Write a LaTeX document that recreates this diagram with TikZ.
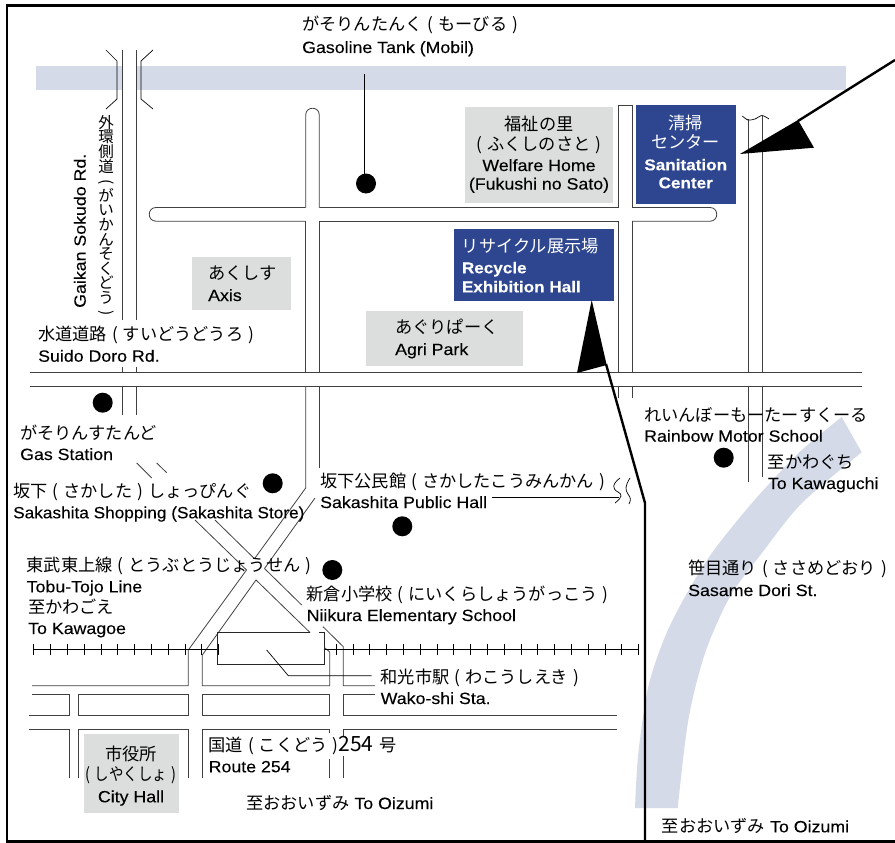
\documentclass[tikz,border=0pt]{standalone}
\usepackage{graphicx}
\usepackage{fontspec}
\setmainfont{Liberation Sans}[FakeStretch=1.09,FakeBold=0.15]
\newfontfamily\jpf{Noto Sans CJK JP}[WordSpace=1.3]
\definecolor{bandc}{HTML}{D4DAE8}
\definecolor{greyc}{HTML}{DCDDDD}
\definecolor{bluec}{HTML}{2E4690}
\tikzset{
  x=1pt,y=-1pt,
  road/.style={draw=black!75,line width=0.8pt},
  thin line/.style={draw=black,line width=0.7pt},
  heavy/.style={draw=black,line width=2.4pt,line join=miter},
  pin/.style={fill=black,draw=none},
  jp/.style={font=\jpf\fontsize{17.2}{20}\selectfont,anchor=base west,inner sep=0pt},
  en/.style={font=\fontsize{16.3}{19}\selectfont,anchor=base west,inner sep=0pt},
  jpc/.style={jp,anchor=base},
  enc/.style={en,anchor=base},
  enb/.style={font=\bfseries\fontsize{15.7}{19}\selectfont,anchor=base west,inner sep=0pt},
}
\begin{document}
\begin{tikzpicture}
\useasboundingbox (0,0) rectangle (895,843);
% blue roads
\fill[bandc] (36,66) rectangle (122,90);
\fill[bandc] (136,66) rectangle (846,90);
\fill[bandc] plot[smooth] coordinates {(635,808) (638.3,753.3) (648.3,686.7) (665,636.7) (685,596.7) (711.7,553.3) (751.7,503.3) (798.3,453.3) (841.7,417)}
  -- plot[smooth] coordinates {(861.7,452.3) (801.7,503.3) (761.7,553.3) (730,596.7) (705,653.3) (688.3,720) (677.7,808)} -- cycle;
% grey and blue boxes
\fill[greyc] (192,257) rectangle (291,310);
\fill[greyc] (366,311) rectangle (523,366);
\fill[greyc] (465,107) rectangle (613,203);
\fill[greyc] (84,734) rectangle (179,812.7);
\fill[bluec] (636,105) rectangle (736,204);
\fill[bluec] (454,229) rectangle (614,301);
% frame
\draw[heavy] (895,5.5) -- (7,5.5) -- (7,841.5) -- (895,841.5);
% ring road
\draw[road] (122,50) -- (122,320) (122,367) -- (122,372) (122,386) -- (122,415);
\draw[road] (136,50) -- (136,320) (136,367) -- (136,372) (136,386) -- (136,415);
\draw[thin line] (106,50) -- (117,61) -- (117,99) -- (106,109);
\draw[thin line] (153,50) -- (141,61) -- (141,99) -- (153,109);
% upper road
\draw[road] (305.7,207.5) -- (156,207.5) .. controls (147,207.5) and (147,221.2) .. (156,221.2) -- (305.7,221.2);
\draw[road] (319.3,207.5) -- (618.7,207.5) (632,207.5) -- (710,207.5) .. controls (719,207.5) and (719,221.2) .. (710,221.2) -- (632,221.2);
\draw[road] (319.3,221.2) -- (618.7,221.2);
% vertical road 1
\draw[road] (305.7,207.5) -- (305.7,115) .. controls (305.7,106) and (319.3,106) .. (319.3,115) -- (319.3,207.5);
\draw[road] (305.7,221.2) -- (305.7,372) (319.3,221.2) -- (319.3,372);
\draw[road] (305.7,386) -- (305.7,488) -- (254.5,558.7);
\draw[road] (319.3,386) -- (319.3,468);
% vertical road 2
\draw[road] (618.7,207.5) -- (618.7,105) -- (632,105) -- (632,207.5);
\draw[road] (618.7,221.2) -- (618.7,372) (632,221.2) -- (632,372);
\draw[road] (618.7,386) -- (618.7,398) (632,386) -- (632,398);
% vertical road 3
\draw[road] (748.3,119) -- (748.3,372) (762.3,116) -- (762.3,372);
\draw[road] (748.3,386) -- (748.3,482) (762.3,386) -- (762.3,477);
\draw[thin line] plot[smooth] coordinates {(742.3,116) (748,120) (755,119) (762,115.5) (769,119)};
% Suido road
\draw[road] (30,372) -- (862,372) (30,386) -- (862,386);
% crossing
\draw[road] (136.7,463) -- (151.7,478) (156.7,463) -- (166.7,472.7);
\draw[road] (195,520) -- (246.5,570) -- (188.3,650) -- (188.3,685.7) -- (32,685.7);
\draw[road] (215,520) -- (254.5,558.7);
\draw[road] (264.5,568.5) -- (301.7,605);
\draw[road] (315,498) -- (264.5,568.5);
\draw[road] (310,632.5) -- (256,580) -- (202.3,655) -- (202.3,685.7) -- (329.7,685.7) -- (329.7,652) -- (325,648);
\draw[road] (323,626.7) -- (343.3,646.7) -- (343.3,685.7) -- (375,685.7);
% lower roads
\draw[road] (32,694.3) -- (69.7,694.3) -- (69.7,715) -- (29,715);
\draw[road] (78,694.3) rectangle (188.3,715);
\draw[road] (202.3,694.3) rectangle (329.7,715);
\draw[road] (375,694.3) -- (343.3,694.3) -- (343.3,715) -- (617,715);
\draw[road] (29,729) -- (69.7,729) -- (69.7,778);
\draw[road] (78,778) -- (78,729) -- (188.3,729) -- (188.3,778);
\draw[road] (202.3,778) -- (202.3,729) -- (329.7,729) -- (329.7,733);
\draw[road] (329.7,759) -- (329.7,778);
\draw[road] (617,729) -- (343.3,729) -- (343.3,737) (343.3,756) -- (343.3,778);
% rail
\draw[thin line] (33.7,649.3) -- (217.7,649.3) (324.3,649.3) -- (639.3,649.3);
\foreach \k in {0,...,11,18,19,...,36}{
  \draw[thin line,line width=0.5pt] ({33.7+16.8*\k},644) -- ({33.7+16.8*\k},655);
}
% station
\draw[draw=black!85,line width=0.9pt] (310,632.7) -- (217.7,632.7) -- (217.7,664.3) -- (324.3,664.3) -- (324.3,632.7) -- (319,632.7);
\draw[thin line] (266.7,650) -- (288.3,675.7) -- (371.7,675.7);
% leaders
\draw[thin line] (364.5,74) -- (364.5,176);
\draw[thin line] (492,497.7) -- (619,497.7);
\draw[thin line] (620,478) .. controls (612,484) and (612,489) .. (618,492) .. controls (622,494) and (623,497) .. (615,503);
\draw[thin line] (630,478) .. controls (625,486) and (625,490) .. (628,494) .. controls (631,498) and (631,500) .. (629,504);
% dots
\fill[pin] (366,183.5) circle (10);
\fill[pin] (102.7,402.7) circle (10);
\fill[pin] (272.7,483.3) circle (10);
\fill[pin] (402.3,526.3) circle (10);
\fill[pin] (332.3,570) circle (10);
\fill[pin] (723.7,457.7) circle (10);
% arrows
\draw[heavy] (895,60) -- (798,121);
\fill (740,154) -- (798,120) -- (814,147.7) -- cycle;
\draw[heavy] (606,364) -- (645,503) -- (645,841.5);
\fill (591.7,300) -- (577,373) -- (606.7,365) -- cycle;
% texts
\node[jp] (t1) at (302,31) {がそりんたんく ( もーびる )};
\node[en] (t2) at (302,53) {Gasoline Tank (Mobil)};
\node[jp] (t3) at (38,340.5) {水道道路 ( すいどうどうろ )};
\node[en] (t4) at (38,361.7) {Suido Doro Rd.};
\node[jp] (t5) at (20,439) {がそりんすたんど};
\node[en] (t6) at (20,460) {Gas Station};
\node[jp] (t7) at (13,497) {坂下 ( さかした ) しょっぴんぐ};
\node[en] (t8) at (13,518.3) {\scalebox{0.97}[1]{Sakashita Shopping (Sakashita Store)}};
\node[jp] (t9) at (26.5,571) {東武東上線 ( とうぶとうじょうせん )};
\node[en] (t10) at (26.5,592.3) {Tobu-Tojo Line};
\node[jp] (t11) at (28,613.5) {至かわごえ};
\node[en] (t12) at (28,634) {To Kawagoe};
\node[jp] (t13) at (306.5,600) {新倉小学校 ( にいくらしょうがっこう )};
\node[en] (t14) at (306.5,621) {Niikura Elementary School};
\node[jp] (t15) at (380.5,683.5) {和光市駅 ( わこうしえき )};
\node[en] (t16) at (380.5,704) {Wako-shi Sta.};
\node[jp] (t17) at (208.5,751) {国道 ( こくどう ){\fontsize{21}{20}\selectfont 254}\hspace{6pt}号};
\node[en] (t18) at (208.5,772.3) {Route 254};
\node[jp] (t19) at (246,809) {至おおいずみ {\normalfont\fontsize{16.3}{19}\selectfont To Oizumi}};
\node[jp] (t20) at (661.7,832.3) {至おおいずみ {\normalfont\fontsize{16.3}{19}\selectfont To Oizumi}};
\node[jp] (t21) at (320,487) {坂下公民館 ( さかしたこうみんかん )};
\node[en] (t22) at (320,508) {Sakashita Public Hall};
\node[jp] (t23) at (644,421) {れいんぼーもーたーすくーる};
\node[en] (t24) at (644,441.7) {Rainbow Motor School};
\node[jp] (t25) at (767.7,468) {至かわぐち};
\node[en] (t26) at (767.7,489) {To Kawaguchi};
\node[jp] (t27) at (688,574.5) {笹目通り ( ささめどおり )};
\node[en] (t28) at (688,596) {Sasame Dori St.};
\node[jp] (t29) at (208,279.5) {あくしす};
\node[en] (t30) at (208,301) {Axis};
\node[jp] (t31) at (395,333) {あぐりぱーく};
\node[en] (t32) at (395,355) {Agri Park};
\node[jpc] (t33) at (539,130) {福祉の里};
\node[jpc] (t34) at (539,150) {( ふくしのさと )};
\node[enc] (t35) at (539,171) {Welfare Home};
\node[enc] (t36) at (539,189.5) {(Fukushi no Sato)};
\node[jpc,text=white] (t37) at (685.7,129) {清掃};
\node[jpc,text=white] (t38) at (685.7,148) {センター};
\node[enb,anchor=base,text=white] (t39) at (685.7,170.3) {Sanitation};
\node[enb,anchor=base,text=white] (t40) at (685.7,188.3) {Center};
\node[jp,text=white] (t41) at (461.7,252) {リサイクル展示場};
\node[enb,text=white] (t42) at (461.7,273.3) {Recycle};
\node[enb,text=white] (t43) at (461.7,292.3) {Exhibition Hall};
\node[jpc] (t44) at (131,760.5) {市役所};
\node[jpc] (t45) at (131,780.5) {\scalebox{0.84}[1]{( しやくしょ )}};
\node[enc] (t46) at (131,802.3) {City Hall};
\node[en,rotate=90] (t47) at (85.7,308) {Gaikan Sokudo Rd.};
\node[align=center,inner sep=0pt,anchor=north,font={\jpf\fontsize{15.5}{14.6}\selectfont\lineskiplimit=-100pt}] (t48) at (106,115)
 {外\\環\\側\\道\\\rotatebox[origin=c]{-90}{(}\\が\\い\\か\\ん\\そ\\く\\ど\\う\\\rotatebox[origin=c]{-90}{)}};
\end{tikzpicture}
\end{document}
